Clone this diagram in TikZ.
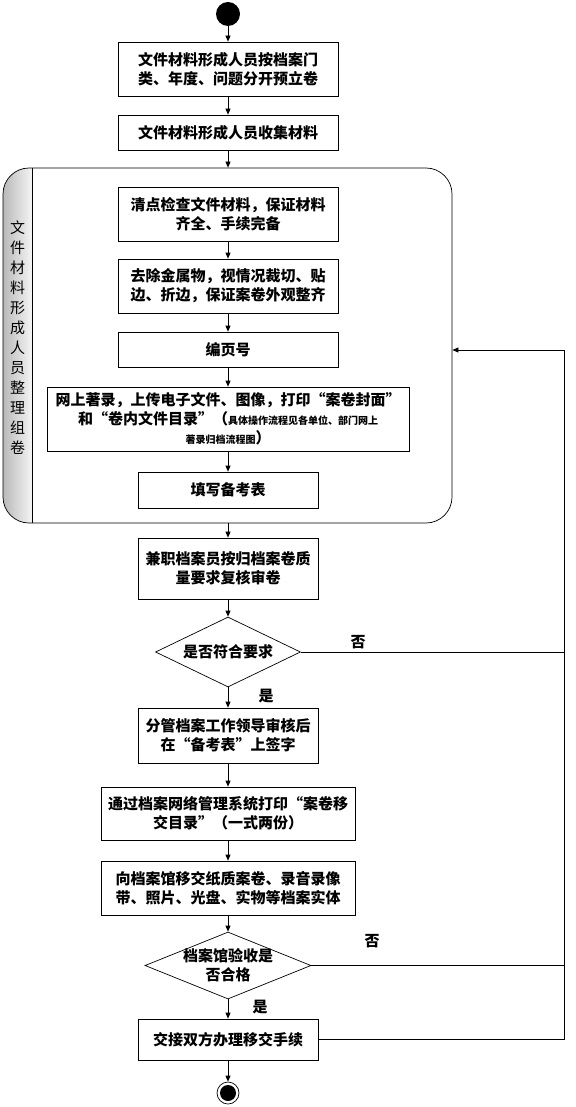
\documentclass[tikz,border=0pt]{standalone}
\usepackage{fontspec}
\setmainfont{Noto Sans CJK SC}
\usetikzlibrary{arrows.meta,shapes.geometric}
\tikzset{
  box/.style={draw, line width=0.7pt, inner sep=0pt, align=center,
    font=\bfseries\fontsize{15}{19}\selectfont},
  dia/.style={draw, diamond, line width=0.7pt, inner sep=0pt},
  lbl/.style={font=\bfseries\fontsize{15}{19}\selectfont, inner sep=0pt, align=center},
  arr/.style={-{Triangle[length=6pt,width=5pt]}, line width=0.7pt},
  ln/.style={line width=0.7pt},
}
\begin{document}
\begin{tikzpicture}[x=1pt,y=-1pt]
\useasboundingbox (0,0) rectangle (575,1107);
% start
\node[circle, fill=black, minimum size=24pt, inner sep=0pt] (start) at (228,14) {};
\node[box, minimum width=220pt, minimum height=54pt] (b1) at (228,69) {文件材料形成人员按档案门\\类、年度、问题分开预立卷};
\node[box, minimum width=220pt, minimum height=35pt] (b2) at (228,132.5) {文件材料形成人员收集材料};
% container
\begin{scope}
  \clip[rounded corners=26pt] (3,168) rectangle (452,523);
  \shade[left color=gray!55, right color=gray!8] (3,168) rectangle (32,523);
\end{scope}
\node[draw, line width=0.7pt, rounded corners=26pt, minimum width=449pt, minimum height=355pt, inner sep=0pt] (cont) at (227.5,345.5) {};
\coordinate (lanetop) at (32,168);
\coordinate (lanebot) at (32,523);
\draw[ln] (lanetop) -- (lanebot);
\node[inner sep=0pt, align=center, font=\fontsize{15}{20}\selectfont] (lane) at (17.5,338)
  {文\\件\\材\\料\\形\\成\\人\\员\\整\\理\\组\\卷};
\node[box, minimum width=220pt, minimum height=54pt] (c1) at (228,214) {清点检查文件材料，保证材料\\齐全、手续完备};
\node[box, minimum width=220pt, minimum height=54pt] (c2) at (228,286) {去除金属物，视情况裁切、贴\\边、折边，保证案卷外观整齐};
\node[box, minimum width=220pt, minimum height=35pt] (c3) at (228,349.5) {编页号};
\node[box, minimum width=362pt, minimum height=64pt] (c4) at (228,419)
  {网上著录，上传电子文件、图像，打印“案卷封面”\\
   和“卷内文件目录”（{\fontsize{10}{19}\selectfont 具体操作流程见各单位、部门网上}\\
   {\fontsize{10}{19}\selectfont 著录归档流程图}）};
\node[box, minimum width=180pt, minimum height=36pt] (c5) at (228,490) {填写备考表};
% below container
\node[box, minimum width=180pt, minimum height=61pt] (d) at (228,568.5) {兼职档案员按归档案卷质\\量要求复核审卷};
\node[dia, minimum width=145pt, minimum height=70pt] (q1) at (228,652) {};
\node[lbl] (q1t) at (q1) {是否符合要求};
\node[box, minimum width=180pt, minimum height=55pt] (e) at (228,735.5) {分管档案工作领导审核后\\在“备考表”上签字};
\node[box, minimum width=254pt, minimum height=53pt] (f) at (228,813.5) {通过档案网络管理系统打印“案卷移\\交目录”（一式两份）};
\node[box, minimum width=254pt, minimum height=54pt] (g) at (228,888) {向档案馆移交纸质案卷、录音录像\\带、照片、光盘、实物等档案实体};
\node[dia, minimum width=166pt, minimum height=67pt] (q2) at (228,965.5) {};
\node[lbl] (q2t) at (q2) {档案馆验收是\\否合格};
\node[box, minimum width=180pt, minimum height=41pt] (h) at (228,1039.5) {交接双方办理移交手续};
\node[circle, draw, line width=0.7pt, minimum size=22pt, inner sep=0pt] (endo) at (228,1093) {};
\node[circle, fill=black, minimum size=16pt, inner sep=0pt] (endi) at (endo) {};
% arrows
\draw[arr] (start) -- (b1);
\draw[arr] (b1) -- (b2);
\draw[arr] (b2) -- (cont.north -| b2);
\draw[arr] (c1) -- (c2);
\draw[arr] (c2) -- (c3);
\draw[arr] (c3) -- (c4);
\draw[arr] (c4) -- (c5);
\draw[arr] (cont.south -| d) -- (d);
\draw[arr] (d) -- (q1);
\draw[arr] (q1) -- (e);
\draw[arr] (e) -- (f);
\draw[arr] (f) -- (g);
\draw[arr] (g) -- (q2);
\draw[arr] (q2) -- (h);
\draw[arr] (h) -- (endo);
% feedback
\coordinate (rb) at (564,1039.5);
\coordinate (rt) at (564,350);
\draw[ln] (h.east) -- (rb) -- (rt);
\draw[arr] (rt) -- (cont.east |- rt);
\draw[ln] (q1.east) -- (q1.east -| rt);
\draw[ln] (q2.east) -- (q2.east -| rt);
\node[lbl] (no1) at (358,642) {否};
\node[lbl] (yes1) at (266,696) {是};
\node[lbl] (no2) at (372,941) {否};
\node[lbl] (yes2) at (260,1007) {是};
\end{tikzpicture}
\end{document}
